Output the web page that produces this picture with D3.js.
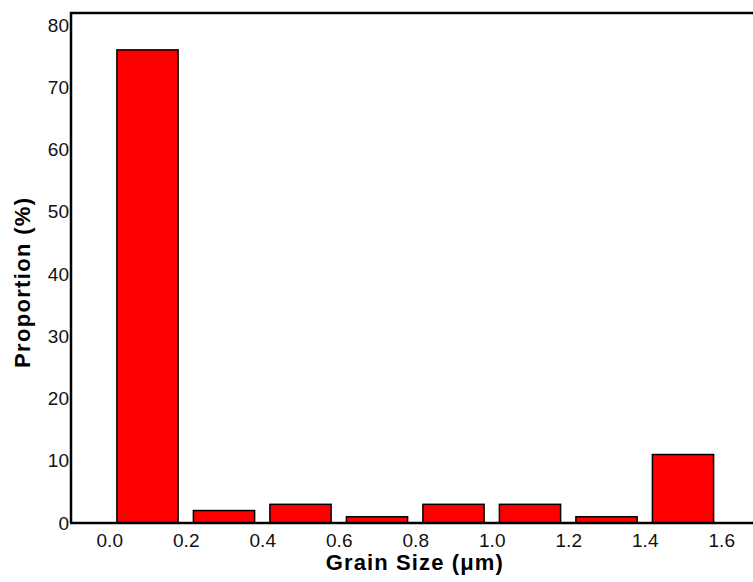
<!DOCTYPE html>
<html>
<head>
<meta charset="utf-8">
<script src="https://cdn.jsdelivr.net/npm/d3@7"></script>
<style>
  body { margin: 0; background: #fff; }
  text { font-family: "Liberation Sans", Arial, sans-serif; }
</style>
</head>
<body>
<svg id="chart" width="753" height="582"></svg>
<script>
// bin centres (μm) and proportions (%)
const bins = [0.1, 0.3, 0.5, 0.7, 0.9, 1.1, 1.3, 1.5]
const proportion = [76, 2, 3, 1, 3, 3, 1, 11]
const x_ticks = [0.0, 0.2, 0.4, 0.6, 0.8, 1.0, 1.2, 1.4, 1.6]
const y_ticks = [0, 10, 20, 30, 40, 50, 60, 70, 80]

const svg = d3.select('#chart')
const plot_left = 71, plot_bottom = 523, plot_top = 13
const x = d3.scaleLinear().domain([-0.1, 1.7]).range([plot_left, plot_left + 1.8 * 382.5])
const y = d3.scaleLinear().domain([0, 80]).range([plot_bottom, 25])
const bar_w = 0.16

svg.selectAll('.bar')
  .data(bins)
  .enter()
  .append('rect')
  .attr('class', 'bar')
  .attr('x', (d) => x(d - bar_w / 2))
  .attr('width', x(bar_w) - x(0))
  .attr('y', (d, i) => y(proportion[i]))
  .attr('height', (d, i) => y(0) - y(proportion[i]))
  .attr('fill', '#ff0000')
  .attr('stroke', '#000')
  .attr('stroke-width', 1.5)

// frame: left, top, bottom
svg.append('path')
  .attr('d', `M${plot_left},${plot_bottom}V${plot_top}H753M${plot_left - 1},${plot_bottom}H753`)
  .attr('fill', 'none')
  .attr('stroke', '#000')
  .attr('stroke-width', 2.5)

const x_axis = svg.append('g')
  .attr('transform', `translate(0,${plot_bottom})`)
  .call(d3.axisBottom(x).tickValues(x_ticks).tickSize(0).tickPadding(11).tickFormat(d3.format('.1f')))
x_axis.select('.domain').remove()
x_axis.selectAll('text').attr('font-size', 19).attr('fill', '#111')

const y_axis = svg.append('g')
  .attr('transform', `translate(${plot_left},0)`)
  .call(d3.axisLeft(y).tickValues(y_ticks).tickSize(0).tickPadding(2))
y_axis.select('.domain').remove()
y_axis.selectAll('text').attr('font-size', 19).attr('fill', '#111')

svg.append('text')
  .attr('x', x(0.8) - 1)
  .attr('y', 570)
  .attr('text-anchor', 'middle')
  .attr('font-size', 22)
  .attr('font-weight', 'bold')
  .attr('textLength', 177)
  .text('Grain Size (μm)')

svg.append('text')
  .attr('transform', `translate(30,283) rotate(-90)`)
  .attr('text-anchor', 'middle')
  .attr('font-size', 22)
  .attr('font-weight', 'bold')
  .attr('textLength', 170)
  .text('Proportion (%)')
</script>
</body>
</html>
